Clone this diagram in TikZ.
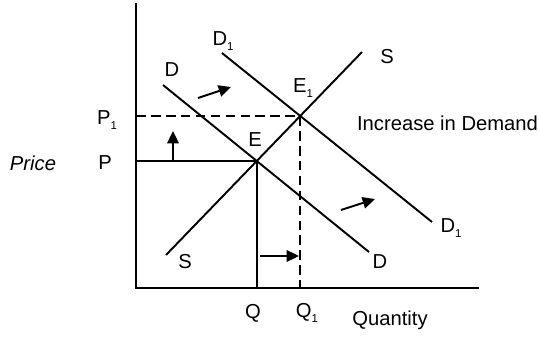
\documentclass[tikz,border=0pt]{standalone}
\usepackage{fontspec}
\setmainfont{Liberation Sans}
\usetikzlibrary{arrows.meta, intersections}
\newcommand{\sub}[1]{\raisebox{-0.45ex}{\fontsize{6.5}{7}\selectfont #1}}

\begin{document}
\begin{tikzpicture}[
    x=0.02cm, y=-0.02cm,
    every node/.style={font=\fontsize{11.5}{13}\selectfont, inner sep=1pt},
    axis/.style={line width=1.1pt},
    curve/.style={line width=1.1pt},
    guide/.style={line width=1.1pt, dash pattern=on 5.5pt off 3pt},
    shiftarr/.style={-{Triangle[length=7pt, width=6.5pt]}, line width=1.1pt}
]
\useasboundingbox (0,0) rectangle (539,338);

% axes
\coordinate (O)    at (136,288);
\coordinate (ytop) at (136,3);
\coordinate (xend) at (479,288);
\draw[axis] (ytop) -- (O) -- (xend);

% demand and supply curves
\coordinate (Dtop)  at (163,85);
\coordinate (Dbot)  at (369,252);
\coordinate (D1top) at (222,53);
\coordinate (D1bot) at (432,222);
\coordinate (Sbot)  at (166,255);
\coordinate (Stop)  at (362,52);
\draw[curve, name path=dd]  (Dtop) -- (Dbot);
\draw[curve, name path=dd1] (D1top) -- (D1bot);
\draw[curve, name path=ss]  (Sbot) -- (Stop);

\path[name intersections={of=dd and ss, by=E}];
\path[name intersections={of=dd1 and ss, by=E1}];

% price and quantity lines
\draw[curve] (O |- E) -- (E) -- (E |- O);
\draw[guide] (O |- E1) -- (E1) -- (E1 |- O);

% shift arrows
\coordinate (upA) at (173,161);
\coordinate (upB) at (173,131);
\coordinate (dA)  at (198,98);
\coordinate (dB)  at (231,87);
\coordinate (d1A) at (341,210);
\coordinate (d1B) at (375,199);
\coordinate (qA)  at (260,256);
\coordinate (qB)  at (299,256);
\draw[shiftarr] (upA) -- (upB);
\draw[shiftarr] (dA) -- (dB);
\draw[shiftarr] (d1A) -- (d1B);
\draw[shiftarr] (qA) -- (qB);

% labels
\node (lD1)  at (223,41)  {D\sub{1}};
\node (lD)   at (172,70)  {D};
\node (lS)   at (387,57)  {S};
\node (lE1)  at (303,88)  {E\sub{1}};
\node (lE)   at (255,140) {E};
\node (lP1)  at (107,120) {P\sub{1}};
\node (lP)   at (105,163) {P};
\node (price) at (33,163) {\itshape Price};
\node[anchor=west] (incr) at (355,123) {Increase in Demand};
\node (lD1b) at (451,228) {D\sub{1}};
\node (lDb)  at (380,262) {D};
\node (lSb)  at (185,262) {S};
\node (lQ)   at (253,313) {Q};
\node (lQ1)  at (307,313) {Q\sub{1}};
\node (qty)  at (390,320) {Quantity};
\end{tikzpicture}
\end{document}
